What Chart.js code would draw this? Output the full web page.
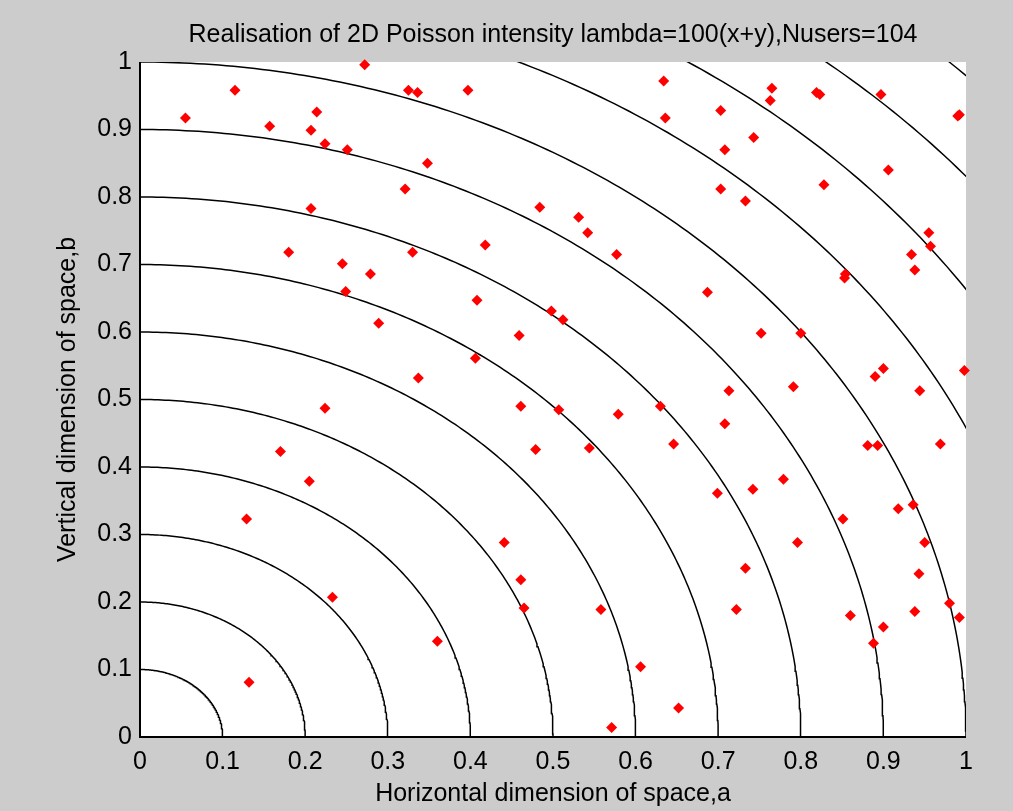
<!DOCTYPE html>
<html>
<head>
<meta charset="utf-8">
<script src="https://cdn.jsdelivr.net/npm/chart.js@4.4.0/dist/chart.umd.min.js"></script>
<style>
  html, body { margin: 0; padding: 0; background: #cccccc; }
  canvas { display: block; }
</style>
</head>
<body>
<canvas id="poisson" width="1013" height="811"></canvas>
<script>
// user positions
const userX = [
  0.272, 0.115, 0.325, 0.336, 0.055, 0.214, 0.157, 0.207, 0.224, 0.251,
  0.321, 0.207, 0.180, 0.330, 0.245, 0.279, 0.249, 0.289, 0.337,
  0.397, 0.634, 0.636, 0.348, 0.484, 0.531, 0.542, 0.577, 0.418, 0.408,
  0.498, 0.512, 0.459, 0.406,
  0.765, 0.763, 0.819, 0.823, 0.897, 0.990, 0.992, 0.703, 0.743, 0.708,
  0.906, 0.828, 0.703, 0.733, 0.955, 0.957, 0.934, 0.938, 0.854, 0.853,
  0.687, 0.752, 0.800, 0.900, 0.890, 0.998, 0.713, 0.791, 0.944,
  0.224, 0.170, 0.205, 0.129, 0.233, 0.132,
  0.461, 0.507, 0.579, 0.630, 0.479, 0.544, 0.646, 0.441, 0.461, 0.465,
  0.558, 0.360, 0.606, 0.652, 0.571,
  0.708, 0.881, 0.893, 0.969, 0.779, 0.742, 0.699, 0.918, 0.936, 0.851,
  0.796, 0.950, 0.733, 0.943, 0.980, 0.992, 0.722, 0.938, 0.860, 0.900,
  0.888
];
const userY = [
  0.996, 0.958, 0.958, 0.955, 0.917, 0.926, 0.905, 0.899, 0.879, 0.870,
  0.812, 0.783, 0.718, 0.718, 0.701, 0.686, 0.660, 0.613, 0.532,
  0.958, 0.972, 0.917, 0.850, 0.785, 0.770, 0.747, 0.715, 0.729, 0.647,
  0.631, 0.618, 0.595, 0.561,
  0.961, 0.943, 0.955, 0.952, 0.952, 0.920, 0.922, 0.928, 0.888, 0.870,
  0.840, 0.818, 0.812, 0.794, 0.747, 0.727, 0.715, 0.692, 0.686, 0.680,
  0.659, 0.598, 0.598, 0.546, 0.534, 0.543, 0.513, 0.519, 0.513,
  0.487, 0.423, 0.379, 0.323, 0.207, 0.081,
  0.490, 0.485, 0.478, 0.490, 0.426, 0.428, 0.434, 0.288, 0.233, 0.191,
  0.189, 0.142, 0.104, 0.043, 0.014,
  0.464, 0.432, 0.432, 0.434, 0.382, 0.367, 0.361, 0.338, 0.344, 0.323,
  0.288, 0.288, 0.250, 0.242, 0.198, 0.177, 0.189, 0.186, 0.180, 0.163,
  0.139
];
// contour levels of sqrt(a^2+b^2)
const contourRadii = [0.1, 0.2, 0.3, 0.4, 0.5, 0.6, 0.7, 0.8, 0.9, 1.0, 1.1, 1.2, 1.3, 1.4];
const tickValues = [0, 0.1, 0.2, 0.3, 0.4, 0.5, 0.6, 0.7, 0.8, 0.9, 1];
const tickLabels = ['0', '0.1', '0.2', '0.3', '0.4', '0.5', '0.6', '0.7', '0.8', '0.9', '1'];

const users = userX.map((x, i) => ({x: x, y: userY[i]}));

datasets = [{
  label: 'users',
  data: users,
  pointStyle: 'rectRot',
  pointRadius: 5.5,
  pointBackgroundColor: '#ff0000',
  pointBorderWidth: 0,
  showLine: false,
  clip: false,
  order: 0
}];

contourRadii.forEach(r => {
  arc = [];
  for (k = 0; k <= 180; k++) {
    t = k / 180 * Math.PI / 2;
    arc.push({x: r * Math.cos(t), y: r * Math.sin(t)});
  }
  datasets.push({
    label: 'r=' + r,
    data: arc,
    showLine: true,
    pointRadius: 0,
    borderColor: '#000000',
    borderWidth: 1.5,
    order: 1
  });
});

const frame = {
  id: 'frame',
  beforeDraw(chart) {
    const {ctx, chartArea: a} = chart;
    ctx.save();
    ctx.fillStyle = '#cccccc';
    ctx.fillRect(0, 0, chart.width, chart.height);
    ctx.fillStyle = '#ffffff';
    ctx.fillRect(a.left, a.top, a.right - a.left, a.bottom - a.top);
    ctx.restore();
  },
  afterDraw(chart) {
    const {ctx, chartArea: a} = chart;
    ctx.save();
    ctx.strokeStyle = '#000000';
    ctx.lineWidth = 2;
    ctx.beginPath();
    ctx.moveTo(a.left, a.top);
    ctx.lineTo(a.left, a.bottom);
    ctx.lineTo(a.right, a.bottom);
    ctx.stroke();
    ctx.restore();
  }
};

const font = {family: "'Liberation Sans', Arial, sans-serif", size: 25, weight: 'normal'};

function setTicks(scale) {
  scale.ticks = tickValues.map(v => ({value: v}));
}

new Chart(document.getElementById('poisson'), {
  type: 'scatter',
  data: {datasets: datasets},
  plugins: [frame],
  options: {
    responsive: false,
    animation: false,
    devicePixelRatio: 1,
    layout: {padding: {left: 0, right: 47, top: 0, bottom: 0}},
    plugins: {
      legend: {display: false},
      tooltip: {enabled: false},
      title: {
        display: true,
        fullSize: false,
        text: 'Realisation of 2D Poisson intensity lambda=100(x+y),Nusers=104',
        color: '#000000',
        font: font,
        padding: {top: 20, bottom: 12}
      }
    },
    scales: {
      x: {
        type: 'linear',
        min: 0,
        max: 1,
        afterBuildTicks: setTicks,
        afterFit: s => { s.height = 74; },
        grid: {display: false, drawTicks: false},
        border: {display: false},
        ticks: {
          color: '#000000',
          font: font,
          padding: 10,
          maxRotation: 0,
          autoSkip: false,
          callback: (v, i) => tickLabels[i]
        },
        title: {
          display: true,
          text: 'Horizontal dimension of space,a',
          color: '#000000',
          font: font,
          padding: {top: 0, bottom: 1.6}
        }
      },
      y: {
        type: 'linear',
        min: 0,
        max: 1,
        afterBuildTicks: setTicks,
        afterFit: s => { s.width = 140; },
        grid: {display: false, drawTicks: false},
        border: {display: false},
        ticks: {
          color: '#000000',
          font: font,
          padding: 8,
          autoSkip: false,
          callback: (v, i) => tickLabels[i]
        },
        title: {
          display: true,
          text: 'Vertical dimension of space,b',
          color: '#000000',
          font: font,
          padding: {top: 53.6, bottom: 0}
        }
      }
    }
  }
});
</script>
</body>
</html>
